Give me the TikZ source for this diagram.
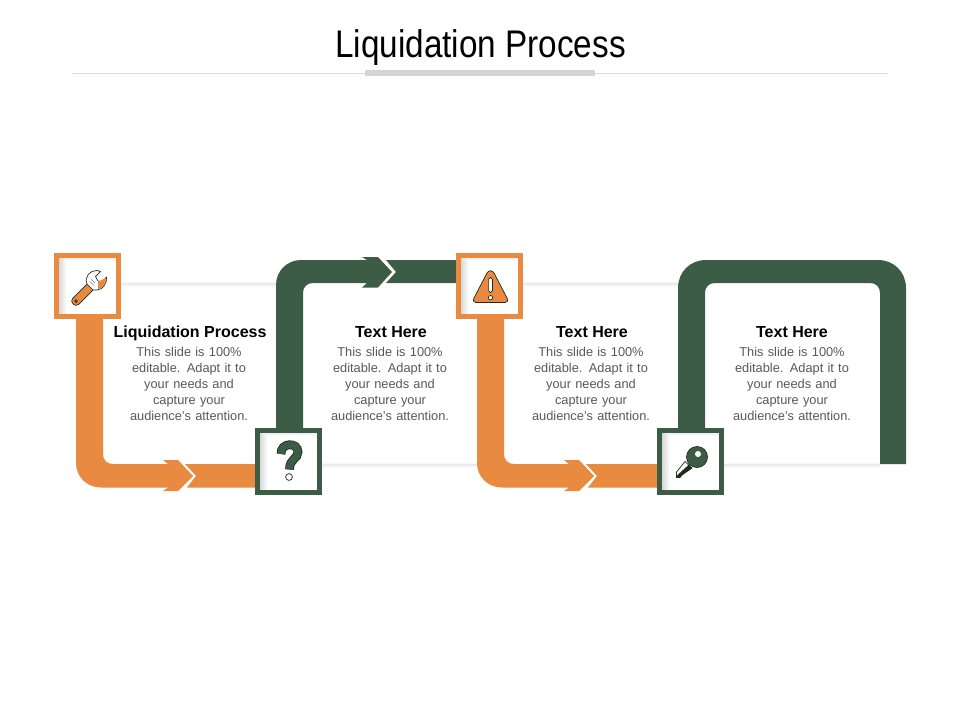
\documentclass[tikz,border=0pt]{standalone}
\usepackage{fontspec}
\setmainfont{Liberation Sans}
\newfontfamily\narrowfont[FakeStretch=0.865]{Liberation Sans}
\definecolor{orng}{HTML}{E88A3F}
\definecolor{grn}{HTML}{3C5C45}
\definecolor{inkk}{HTML}{1E2A22}
\definecolor{bodytxt}{HTML}{595959}
\tikzset{
  every picture/.style={x=1pt,y=-1pt},
  titletext/.style={font=\narrowfont\fontsize{38.5}{42}\selectfont,text=black,inner sep=0,anchor=base},
  headtext/.style={font=\bfseries\fontsize{16}{18}\selectfont,text=black,inner sep=0,anchor=base},
  bodytext/.style={font=\fontsize{12.8}{16}\selectfont,text=bodytxt,align=center,inner sep=0,text width=160pt},
  iconbox/.style={draw=#1,line width=5pt,minimum width=62pt,minimum height=61.5pt,inner sep=0,rectangle},
  icon/.style={draw=inkk,line width=0.7pt,line join=round},
}
\newcommand{\boxshade}[2]{%
  \fill[white] (#1-29,#2-29) rectangle (#1+29,#2+29);
  \shade[left color=black!16,right color=white] (#1-29,#2-29) rectangle (#1-21,#2+29);
  \shade[top color=black!7,bottom color=white] (#1-21,#2-29) rectangle (#1+29,#2-25);
}
\begin{document}
\begin{tikzpicture}
\useasboundingbox (0,0) rectangle (960,720);
\fill[white] (0,0) rectangle (960,720);
% title
\node[titletext] (title) at (480.5,57) {Liquidation Process};
\coordinate (ruleL) at (72,73.5);
\coordinate (ruleR) at (888,73.5);
\draw[black!15,line width=0.8pt] (ruleL) -- (ruleR);
\fill[black!17] (365,70) rectangle (595,76);
% card edges
\foreach \a/\b/\yy in {121/276/283,523/678/283,322/477/464,724/880/464}{
  \fill[black!3] (\a,\yy-1) rectangle (\b,\yy+3.5);
  \fill[black!8] (\a,\yy) rectangle (\b,\yy+1.5);
}
% orange bands
\foreach \s in {0,401}{
\begin{scope}[xshift=\s pt]
\fill[orng] (76,310) -- (103,310) -- (103,454) .. controls (103,460) and (107,464) .. (113,464)
  -- (168,464) -- (163,460) -- (178,460) -- (193,476) -- (178,491) -- (163,491) -- (168,487.5)
  -- (101,487.5) .. controls (87,487.5) and (76,477) .. (76,463) -- cycle;
\fill[orng] (185,464) -- (262,464) -- (262,487.5) -- (187,487.5) -- (196,476) -- cycle;
\end{scope}}
% green band with arrow
\fill[grn] (276,435) -- (276,285) .. controls (276,271) and (287,260) .. (301,260)
  -- (367,260) -- (362,257) -- (378,257) -- (392,272) -- (378,287.5) -- (362,287.5) -- (367,283)
  -- (313,283) .. controls (307,283) and (303,287) .. (303,293) -- (303,435) -- cycle;
\fill[grn] (386,260) -- (462,260) -- (462,283) -- (386,283) -- (396,272) -- cycle;
% green frame on the right
\fill[grn] (678,435) -- (678,288) .. controls (678,272) and (690,260) .. (706,260)
  -- (878,260) .. controls (894,260) and (906,272) .. (906,288) -- (906,464) -- (880,464)
  -- (880,293) .. controls (880,287) and (876,283) .. (870,283)
  -- (715,283) .. controls (709,283) and (705,287) .. (705,293) -- (705,435) -- cycle;
% icon boxes
\boxshade{87.5}{286}
\boxshade{288.5}{461.5}
\boxshade{489.5}{286}
\boxshade{690.8}{461.5}
\node[iconbox=orng] (box1) at (87.5,286) {};
\node[iconbox=grn] (box2) at (288.5,461.5) {};
\node[iconbox=orng] (box3) at (489.5,286) {};
\node[iconbox=grn] (box4) at (690.8,461.5) {};
% wrench
\fill[orng,icon] (72.5,298.5) -- (87,284) -- (93,290) -- (78.5,304.5) .. controls (75,307.5) and (69.5,302) .. (72.5,298.5) -- cycle;
\draw[icon,fill=orng!70!black] (76,301) circle (1.5);
\fill[white,icon] (87,284) .. controls (84,277) and (90,270) .. (97,270.5) -- (100.5,271.5) -- (95.5,276.5)
  -- (98,281) -- (102,282.5) -- (106.5,277) .. controls (107.5,283) and (103,289.5) .. (97,290) -- (93,290) -- cycle;
\fill[orng] (98,281.5) -- (106,278) .. controls (106.5,283) and (103,288.5) .. (98,289) -- cycle;
\draw[black!50,line width=0.5pt] (91,279) -- (95,283) (90,281.5) -- (94,285.5);
% question mark
\foreach \w/\c in {8.8/inkk,7.2/grn}{
\draw[line width=\w pt,draw=\c] (281,454) .. controls (280.5,442) and (298,442) .. (298,452)
  .. controls (298,459) and (289.5,458.5) .. (289.5,469.5);
}
\draw[inkk,fill=white,line width=0.7pt] (289,477) circle (3.4);
% warning sign
\fill[orng,icon] (487,273) .. controls (489,270) and (492,270) .. (494,273) -- (507,298)
  .. controls (508.5,301) and (507,302.5) .. (505,302.5) -- (476,302.5)
  .. controls (474,302.5) and (472.5,301) .. (474,298) -- cycle;
\draw[icon,fill=white,rounded corners=1.7pt] (488.6,277.5) rectangle (492.4,292.5);
\draw[icon,fill=white] (490.5,297.7) circle (2.2);
% key
\fill[white,icon] (685,461.5) -- (692,468) -- (682,475) -- (680,477.5) -- (676.5,477.5) -- (676.5,472) -- cycle;
\fill[inkk] (688.5,465) -- (692,468) -- (682,475) -- (680,477.5) -- (676.5,477.5) -- (677.5,475) -- cycle;
\fill[grn,icon] (697,457) circle (10.5);
\fill[white] (698,454) circle (3);
% texts
\node[headtext] (h1) at (190,337.5) {Liquidation Process};
\node[headtext] (h2) at (391,337.5) {Text Here};
\node[headtext] (h3) at (592,337.5) {Text Here};
\node[headtext] (h4) at (792,337.5) {Text Here};
\def\bodystr{This slide is 100\%\\editable. Adapt it to\\your needs and\\capture your\\audience's attention.}
\node[bodytext] (b1) at (189,384) {\bodystr};
\node[bodytext] (b2) at (390,384) {\bodystr};
\node[bodytext] (b3) at (591,384) {\bodystr};
\node[bodytext] (b4) at (792,384) {\bodystr};
\end{tikzpicture}
\end{document}
